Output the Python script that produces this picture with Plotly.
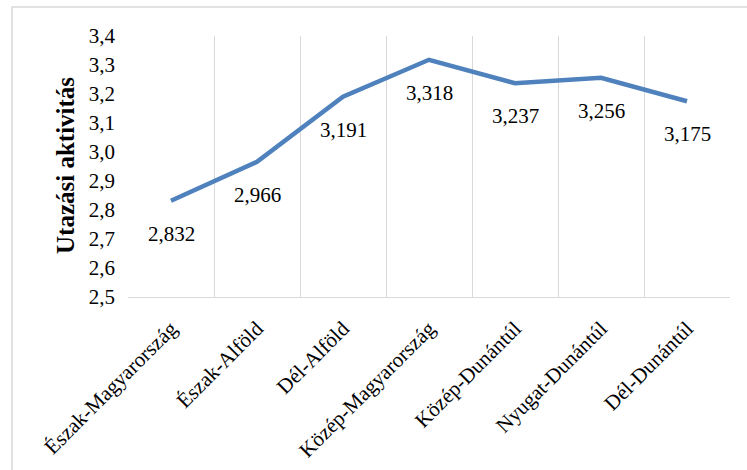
import plotly.graph_objects as go

categories = ["Észak-Magyarország", "Észak-Alföld", "Dél-Alföld", "Közép-Magyarország",
              "Közép-Dunántúl", "Nyugat-Dunántúl", "Dél-Dunántúl"]
values = [2.832, 2.966, 3.191, 3.318, 3.237, 3.256, 3.175]
y_title = "Utazási aktivitás"
y_ticks = [2.5, 2.6, 2.7, 2.8, 2.9, 3.0, 3.1, 3.2, 3.3, 3.4]

FONT = "Liberation Serif"
W, H = 747, 470
L, R, T, B = 128, 17, 36, 173
pw = W - L - R
ph = H - T - B

fig = go.Figure()
fig.add_trace(go.Scatter(
    x=categories, y=values, mode="lines",
    line=dict(color="#4F81BD", width=4.5),
    hoverinfo="skip",
))

annotations = []
for c, v in zip(categories, values):
    annotations.append(dict(
        x=c, y=v, xref="x", yref="y", showarrow=False,
        text=f"{v:.3f}".replace(".", ","), yshift=-33,
        font=dict(family=FONT, size=21, color="#000000"),
    ))
annotations.append(dict(
    x=(65 - L) / pw, y=(T + ph - 166) / ph, xref="paper", yref="paper",
    xanchor="center", yanchor="middle", showarrow=False,
    text=f"<b>{y_title}</b>", textangle=-90,
    font=dict(family=FONT, size=25, color="#000000"),
))

fig.update_layout(
    width=W, height=H,
    margin=dict(l=L, r=R, t=T, b=B, autoexpand=False),
    paper_bgcolor="white", plot_bgcolor="white",
    showlegend=False,
    separators=", ",
    font=dict(family=FONT, size=21, color="#000000"),
    annotations=annotations,
    shapes=[dict(type="rect", xref="paper", yref="paper",
                 x0=(12 - L) / pw, x1=(760 - L) / pw,
                 y0=(T + ph - 480) / ph, y1=(T + ph - 7) / ph,
                 line=dict(color="#D9D9D9", width=1.5), layer="below")],
)
fig.update_xaxes(
    type="category", range=[-0.5, 6.5], tickson="boundaries",
    showgrid=True, gridcolor="#D9D9D9", gridwidth=1,
    showline=True, linecolor="#D9D9D9", linewidth=1,
    ticks="", tickangle=-45, ticklabelstandoff=10,
    tickfont=dict(family=FONT, size=21, color="#000000"),
    automargin=False, zeroline=False,
)
fig.update_yaxes(
    range=[2.5, 3.4], tickvals=y_ticks, tickformat=".1f",
    showgrid=False, showline=False, zeroline=False,
    ticks="", ticklabelstandoff=12,
    tickfont=dict(family=FONT, size=21, color="#000000"),
    automargin=False,
)
fig.write_html("out.html", config={"displayModeBar": False},
               post_script="document.body.style.margin='0';document.body.style.overflow='hidden';")
